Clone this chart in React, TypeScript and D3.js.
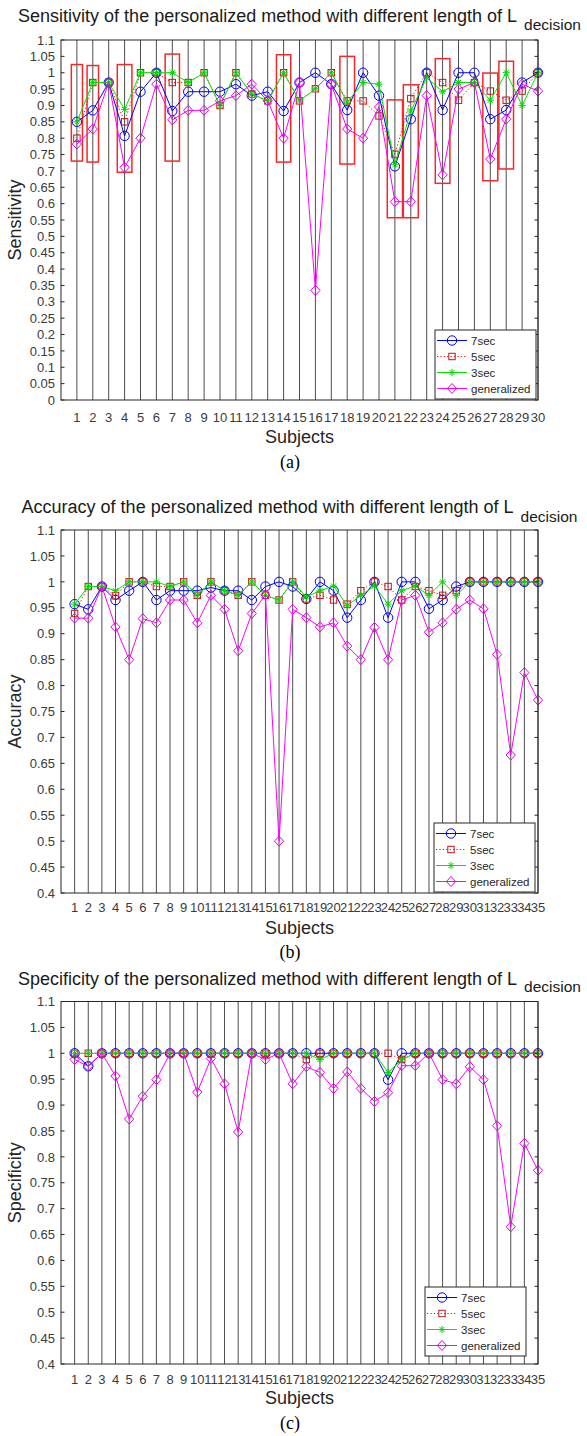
import React from 'react';
import * as d3 from 'd3';

// ---------------- DATA ----------------
const seriesNames = ['7sec', '5sec', '3sec', 'generalized'];

const subjects30 = [1, 2, 3, 4, 5, 6, 7, 8, 9, 10, 11, 12, 13, 14, 15, 16, 17, 18, 19, 20, 21, 22, 23, 24, 25, 26, 27, 28, 29, 30];
const subjects35 = [1, 2, 3, 4, 5, 6, 7, 8, 9, 10, 11, 12, 13, 14, 15, 16, 17, 18, 19, 20, 21, 22, 23, 24, 25, 26, 27, 28, 29, 30, 31, 32, 33, 34, 35];

// (a) Sensitivity
const sens7sec = [0.85, 0.885, 0.97, 0.807, 0.942, 1, 0.883, 0.942, 0.942, 0.942, 0.965, 0.93, 0.942, 0.883, 0.97, 1, 0.965, 0.886, 1, 0.93, 0.714, 0.858, 1, 0.886, 1, 1, 0.858, 0.886, 0.97, 1];
const sens5sec = [0.8, 0.97, 0.97, 0.85, 1, 1, 0.97, 0.97, 1, 0.9, 1, 0.935, 0.914, 1, 0.914, 0.951, 1, 0.914, 0.914, 0.868, 0.751, 0.921, 1, 0.97, 0.916, 0.97, 0.944, 0.916, 0.944, 1];
const sens3sec = [0.85, 0.97, 0.97, 0.888, 1, 1, 1, 0.97, 1, 0.9, 1, 0.935, 0.914, 1, 0.914, 0.951, 1, 0.91, 0.97, 0.965, 0.719, 0.883, 0.985, 0.942, 0.97, 0.97, 0.916, 1, 0.9, 1];
const sensGeneralized = [0.782, 0.828, 0.97, 0.711, 0.8, 0.965, 0.856, 0.885, 0.885, 0.914, 0.93, 0.965, 0.914, 0.8, 0.97, 0.335, 0.965, 0.828, 0.8, 0.895, 0.606, 0.606, 0.93, 0.688, 0.95, 0.97, 0.736, 0.858, 0.965, 0.944];

// highlighted subjects in (a): subject, top, bottom, width (in subject units)
const boxSubjects = [1, 2, 4, 7, 14, 18, 21, 22, 24, 27, 28];
const boxTop = [1.025, 1.022, 1.025, 1.057, 1.055, 1.05, 0.917, 0.963, 1.043, 0.999, 1.035];
const boxBottom = [0.73, 0.727, 0.696, 0.73, 0.727, 0.721, 0.557, 0.557, 0.662, 0.67, 0.706];
const boxWidth = [0.7, 0.72, 0.92, 0.9, 0.9, 0.92, 0.96, 0.94, 0.92, 0.94, 0.92];

// (b) Accuracy
const acc7sec = [0.957, 0.947, 0.991, 0.965, 0.983, 1, 0.965, 0.983, 0.983, 0.983, 0.989, 0.983, 0.983, 0.965, 0.991, 1, 0.991, 0.967, 1, 0.983, 0.931, 0.965, 1, 0.931, 1, 1, 0.948, 0.965, 0.991, 1, 1, 1, 1, 1, 1];
const acc5sec = [0.939, 0.991, 0.991, 0.973, 1, 1, 0.991, 0.991, 1, 0.974, 1, 0.983, 0.974, 1, 0.974, 0.965, 1, 0.967, 0.974, 0.965, 0.957, 0.983, 1, 0.991, 0.965, 0.991, 0.983, 0.974, 0.983, 1, 1, 1, 1, 1, 1];
const acc3sec = [0.957, 0.991, 0.991, 0.983, 1, 1, 1, 0.991, 1, 0.974, 1, 0.983, 0.974, 1, 0.974, 0.965, 1, 0.971, 0.983, 0.992, 0.954, 0.974, 0.992, 0.957, 0.983, 0.992, 0.974, 1, 0.974, 1, 1, 1, 1, 1, 1];
const accGeneralized = [0.93, 0.93, 0.991, 0.913, 0.85, 0.929, 0.921, 0.965, 0.965, 0.921, 0.974, 0.947, 0.867, 0.939, 0.975, 0.5, 0.947, 0.931, 0.913, 0.921, 0.876, 0.85, 0.912, 0.85, 0.965, 0.974, 0.903, 0.921, 0.947, 0.965, 0.948, 0.86, 0.666, 0.825, 0.772];

// (c) Specificity
const spec7sec = [1, 0.975, 1, 1, 1, 1, 1, 1, 1, 1, 1, 1, 1, 1, 1, 1, 1, 1, 1, 1, 1, 1, 1, 0.949, 1, 1, 1, 1, 1, 1, 1, 1, 1, 1, 1];
const spec5sec = [1, 1, 1, 1, 1, 1, 1, 1, 1, 1, 1, 1, 1, 1, 1, 1, 1, 0.988, 1, 1, 1, 1, 1, 1, 0.988, 1, 1, 1, 1, 1, 1, 1, 1, 1, 1];
const spec3sec = [1, 1, 1, 1, 1, 1, 1, 1, 1, 1, 1, 1, 1, 1, 1, 1, 1, 1, 0.988, 1, 1, 1, 1, 0.963, 0.988, 1, 1, 1, 1, 1, 1, 1, 1, 1, 1];
const specGeneralized = [0.988, 0.975, 1, 0.956, 0.873, 0.917, 0.949, 1, 1, 0.925, 0.99, 0.941, 0.848, 1, 0.988, 1, 0.941, 0.974, 0.963, 0.932, 0.964, 0.932, 0.907, 0.924, 0.976, 0.976, 1, 0.949, 0.941, 0.974, 0.949, 0.86, 0.665, 0.826, 0.774];

const yTicksA = [0, 0.05, 0.1, 0.15, 0.2, 0.25, 0.3, 0.35, 0.4, 0.45, 0.5, 0.55, 0.6, 0.65, 0.7, 0.75, 0.8, 0.85, 0.9, 0.95, 1, 1.05, 1.1];
const yTicksBC = [0.4, 0.45, 0.5, 0.55, 0.6, 0.65, 0.7, 0.75, 0.8, 0.85, 0.9, 0.95, 1, 1.05, 1.1];

// ---------------- STYLE ----------------
const W = 587;
const H = 1436;
const SANS = '"Liberation Sans", Arial, Helvetica, sans-serif';
const SERIF = '"Liberation Serif", "Times New Roman", serif';

const seriesStyle = [
  { line: '#0000ff', dash: undefined as string | undefined, marker: 'circle', mcolor: '#0000ff' },
  { line: '#ff0000', dash: '1.2,2.2', marker: 'square', mcolor: '#c4161c' },
  { line: '#00e600', dash: undefined, marker: 'star', mcolor: '#00d800' },
  { line: '#ff00ff', dash: undefined, marker: 'diamond', mcolor: '#e600e6' },
];

function Marker({ kind, x, y, color }: { kind: string; x: number; y: number; color: string }) {
  if (kind === 'circle') return <circle cx={x} cy={y} r={4.7} fill="none" stroke={color} strokeWidth={1} />;
  if (kind === 'square') return <rect x={x - 3.2} y={y - 3.2} width={6.4} height={6.4} fill="none" stroke={color} strokeWidth={1} />;
  if (kind === 'diamond')
    return <path d={`M${x},${y - 5}L${x + 4.6},${y}L${x},${y + 5}L${x - 4.6},${y}Z`} fill="none" stroke={color} strokeWidth={1} />;
  const r = 3.6, d = 2.6;
  return (
    <path
      d={`M${x - r},${y}H${x + r}M${x},${y - r}V${y + r}M${x - d},${y - d}L${x + d},${y + d}M${x - d},${y + d}L${x + d},${y - d}`}
      stroke={color}
      strokeWidth={1}
      fill="none"
    />
  );
}

const fmt = (v: number) => String(+v.toFixed(2));

type PanelCfg = {
  top: number;
  bottom: number;
  left: number;
  right: number;
  yDomain: [number, number];
  yTicks: number[];
  subjects: number[];
  series: number[][];
  title: string;
  titleY: number;
  subDy: number;
  yLabel: string;
  xTickDy: number;
  xLabelY: number;
  capLabel: string;
  capY: number;
  legendX: number;
  legendY: number;
  boxes?: boolean;
};

function Panel({ cfg }: { cfg: PanelCfg }) {
  const n = cfg.subjects.length;
  const x = d3.scaleLinear().domain([0, n]).range([cfg.left, cfg.right]);
  const y = d3.scaleLinear().domain(cfg.yDomain).range([cfg.bottom, cfg.top]);
  const cx = (cfg.left + cfg.right) / 2;
  const cy = (cfg.top + cfg.bottom) / 2;

  const lineGen = d3
    .line<number>()
    .x((_, i) => x(cfg.subjects[i]))
    .y((d) => y(d));

  const legW = 101, legH = 69;
  return (
    <g>
      {/* title */}
      <text x={cx} y={cfg.titleY} textAnchor="middle" fontFamily={SANS} fontSize={18} fill="#1a1a1a">
        {cfg.title}
        <tspan dx={7} dy={cfg.subDy} fontSize={15.5}>decision</tspan>
      </text>

      {/* vertical subject lines */}
      {cfg.subjects.map((s) => (
        <line key={'v' + s} x1={x(s)} x2={x(s)} y1={cfg.top} y2={cfg.bottom} stroke="#4d4d4d" strokeWidth={1} />
      ))}

      {/* red highlight boxes */}
      {cfg.boxes &&
        boxSubjects.map((s, i) => (
          <rect
            key={'b' + s}
            x={x(s - boxWidth[i] / 2)}
            width={x(boxWidth[i]) - x(0)}
            y={y(boxTop[i])}
            height={y(boxBottom[i]) - y(boxTop[i])}
            fill="none"
            stroke="#f52828"
            strokeWidth={1.5}
          />
        ))}

      {/* series */}
      {cfg.series.map((vals, si) => (
        <g key={'s' + si}>
          <path d={lineGen(vals) || ''} fill="none" stroke={seriesStyle[si].line} strokeWidth={1} strokeDasharray={seriesStyle[si].dash} />
          {vals.map((v, i) => (
            <Marker key={i} kind={seriesStyle[si].marker} x={x(cfg.subjects[i])} y={y(v)} color={seriesStyle[si].mcolor} />
          ))}
        </g>
      ))}

      {/* axes box */}
      <rect x={cfg.left} y={cfg.top} width={cfg.right - cfg.left} height={cfg.bottom - cfg.top} fill="none" stroke="#262626" strokeWidth={1} />

      {/* y ticks */}
      {cfg.yTicks.map((t) => (
        <g key={'y' + t}>
          <line x1={cfg.left} x2={cfg.left + 3.5} y1={y(t)} y2={y(t)} stroke="#262626" />
          <line x1={cfg.right - 3.5} x2={cfg.right} y1={y(t)} y2={y(t)} stroke="#262626" />
          <text x={cfg.left - 6} y={y(t)} dy="0.36em" textAnchor="end" fontFamily={SANS} fontSize={13} fill="#3a3a3a">
            {fmt(t)}
          </text>
        </g>
      ))}

      {/* x tick labels */}
      {cfg.subjects.map((s) => (
        <text key={'x' + s} x={x(s)} y={cfg.bottom + cfg.xTickDy} textAnchor="middle" fontFamily={SANS} fontSize={13} fill="#3a3a3a">
          {s}
        </text>
      ))}

      {/* axis labels */}
      <text x={cx} y={cfg.xLabelY} textAnchor="middle" fontFamily={SANS} fontSize={18} fill="#262626">
        Subjects
      </text>
      <text transform={`translate(21,${cy}) rotate(-90)`} textAnchor="middle" fontFamily={SANS} fontSize={18} fill="#262626">
        {cfg.yLabel}
      </text>

      {/* legend */}
      <g transform={`translate(${cfg.legendX},${cfg.legendY})`}>
        <rect x={0} y={0} width={legW} height={legH} fill="#ffffff" stroke="#262626" strokeWidth={1} />
        {seriesNames.map((nm, i) => {
          const ry = 10.5 + i * 16;
          return (
            <g key={nm}>
              <line x1={2} x2={32} y1={ry} y2={ry} stroke={seriesStyle[i].line} strokeWidth={1} strokeDasharray={seriesStyle[i].dash} />
              <Marker kind={seriesStyle[i].marker} x={17} y={ry} color={seriesStyle[i].mcolor} />
              <text x={36} y={ry} dy="0.36em" fontFamily={SANS} fontSize={11.5} fill="#262626">
                {nm}
              </text>
            </g>
          );
        })}
      </g>

      {/* caption */}
      <text x={290} y={cfg.capY} textAnchor="middle" fontFamily={SERIF} fontSize={18} fill="#000">
        {cfg.capLabel}
      </text>
    </g>
  );
}

export default function App() {
  const panels: PanelCfg[] = [
    {
      top: 40, bottom: 400, left: 61, right: 538,
      yDomain: [0, 1.1], yTicks: yTicksA, subjects: subjects30,
      series: [sens7sec, sens5sec, sens3sec, sensGeneralized],
      title: 'Sensitivity of the personalized method with different length of L',
      titleY: 22, subDy: 8, yLabel: 'Sensitivity', xTickDy: 21.5, xLabelY: 442.5,
      capLabel: '(a)', capY: 468, legendX: 435, legendY: 330, boxes: true,
    },
    {
      top: 530, bottom: 893, left: 61, right: 538,
      yDomain: [0.4, 1.1], yTicks: yTicksBC, subjects: subjects35,
      series: [acc7sec, acc5sec, acc3sec, accGeneralized],
      title: 'Accuracy of the personalized method with different length of L',
      titleY: 513, subDy: 9, yLabel: 'Accuracy', xTickDy: 18.5, xLabelY: 934,
      capLabel: '(b)', capY: 958, legendX: 434, legendY: 823,
    },
    {
      top: 1001.5, bottom: 1364, left: 61, right: 538,
      yDomain: [0.4, 1.1], yTicks: yTicksBC, subjects: subjects35,
      series: [spec7sec, spec5sec, spec3sec, specGeneralized],
      title: 'Specificity of the personalized method with different length of L',
      titleY: 984.5, subDy: 7.5, yLabel: 'Specificity', xTickDy: 20, xLabelY: 1404,
      capLabel: '(c)', capY: 1429, legendX: 425, legendY: 1287,
    },
  ];
  return (
    <svg
      width={W}
      height={H}
      viewBox={`0 0 ${W} ${H}`}
      style={{ position: 'absolute', left: 0, top: 0, background: '#fff', display: 'block' }}
    >
      <rect x={0} y={0} width={W} height={H} fill="#fff" />
      {panels.map((p, i) => (
        <Panel key={i} cfg={p} />
      ))}
    </svg>
  );
}
